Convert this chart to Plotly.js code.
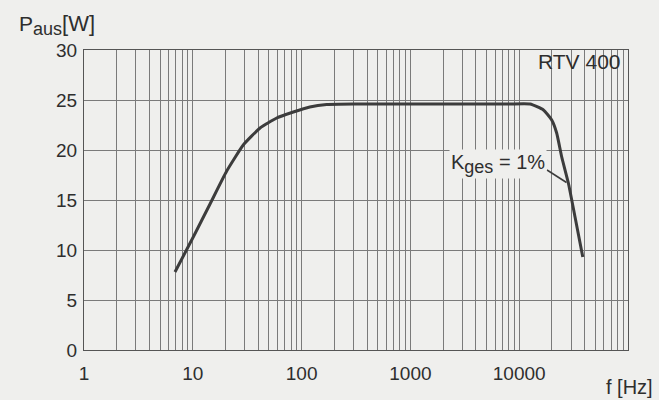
<!DOCTYPE html>
<html><head><meta charset="utf-8">
<script src="https://cdn.plot.ly/plotly-3.0.1.min.js"></script>
<style>body{margin:0;background:#efefed}</style>
</head><body><div id="chart" style="width:659px;height:400px"></div>
<script>
// Curve: frequency (Hz) and output power (W)
const freqHz = [6.86, 10.1, 14.4, 20.5, 29.1, 41.5, 59, 84, 119, 170, 300, 1000, 3000, 8000, 12600, 16700, 19900, 22100, 24600, 28300, 32600, 38400];
const powerW = [7.8, 11.3, 14.6, 17.9, 20.5, 22.2, 23.2, 23.8, 24.3, 24.55, 24.6, 24.6, 24.6, 24.6, 24.6, 24.0, 23.0, 21.7, 19.3, 16.7, 13.3, 9.3];

// Axis ticks / grid
const xTickVals = [1, 10, 100, 1000, 10000, 100000];
const xTickLabels = ["1", "10", "100", "1000", "10000", "100000"];
const yTicks = [0, 5, 10, 15, 20, 25, 30];

const minorVals = [];
xTickVals.slice(0, -1).forEach(d => { for (let m = 2; m <= 9; m++) minorVals.push(d * m); });

const font = {family: "Liberation Sans, Arial, sans-serif", size: 19, color: "#2e2e2e"};
const bg = "#efefed";
const grid = "#7a7a7a";

const trace = {
  x: freqHz, y: powerW, type: "scatter", mode: "lines",
  line: {color: "#3c3c3c", width: 3, shape: "spline", smoothing: 0.45},
  hoverinfo: "skip"
};

const layout = {
  width: 659, height: 400,
  margin: {l: 84, r: 31, t: 50, b: 50},
  paper_bgcolor: bg, plot_bgcolor: bg,
  showlegend: false,
  font: font,
  xaxis: {
    type: "log", range: [0, 5],
    tickmode: "array", tickvals: xTickVals, ticktext: xTickLabels,
    showgrid: true, gridcolor: grid, gridwidth: 1,
    minor: {tickmode: "array", tickvals: minorVals, showgrid: true, gridcolor: grid, gridwidth: 1, ticks: ""},
    showline: true, linecolor: "#555", linewidth: 1, mirror: true,
    ticks: "", zeroline: false, ticklabelstandoff: 6,
    tickfont: font, fixedrange: true
  },
  yaxis: {
    range: [0, 30],
    tickmode: "array", tickvals: yTicks,
    showgrid: true, gridcolor: grid, gridwidth: 1,
    showline: true, linecolor: "#555", linewidth: 1, mirror: true,
    ticks: "", zeroline: false, ticklabelstandoff: 2,
    tickfont: font, fixedrange: true
  },
  shapes: [
    {type: "rect", xref: "paper", yref: "paper", x0: 0.8, x1: 0.998, y0: 25/30 + 0.003, y1: 0.997,
     fillcolor: bg, line: {width: 0}, layer: "between"},
    {type: "line", xref: "paper", yref: "paper",
     x0: (547 - 84) / 544, y0: (350 - 170) / 300, x1: (566.5 - 84) / 544, y1: (350 - 182.5) / 300,
     line: {color: "#3c3c3c", width: 1.5}}
  ],
  annotations: [
    {xref: "paper", yref: "paper", x: -0.123, y: 1.085, xanchor: "left", yanchor: "middle",
     text: "P<sub><span style='font-size:18px'>aus</span></sub><span style='font-size:22px'>[W]</span>", showarrow: false, font: {...font, size: 21}},
    {xref: "paper", yref: "paper", x: 1.05, y: -0.123, xanchor: "right", yanchor: "middle",
     text: "f [Hz]", showarrow: false, font: {...font, size: 20}},
    {xref: "paper", yref: "paper", x: 0.991, y: 0.963, xanchor: "right", yanchor: "middle",
     text: "RTV 400", showarrow: false, font: {...font, size: 21}},
    {xref: "paper", yref: "paper", x: (547 - 84) / 544, y: (350 - 164) / 300, xanchor: "right", yanchor: "middle",
     text: "K<sub><span style='font-size:18px'>ges</span></sub> = 1%", showarrow: false, font: {...font, size: 20}, bgcolor: bg}
  ]
};

Plotly.newPlot("chart", [trace], layout, {displayModeBar: false, staticPlot: true});
</script></body></html>
